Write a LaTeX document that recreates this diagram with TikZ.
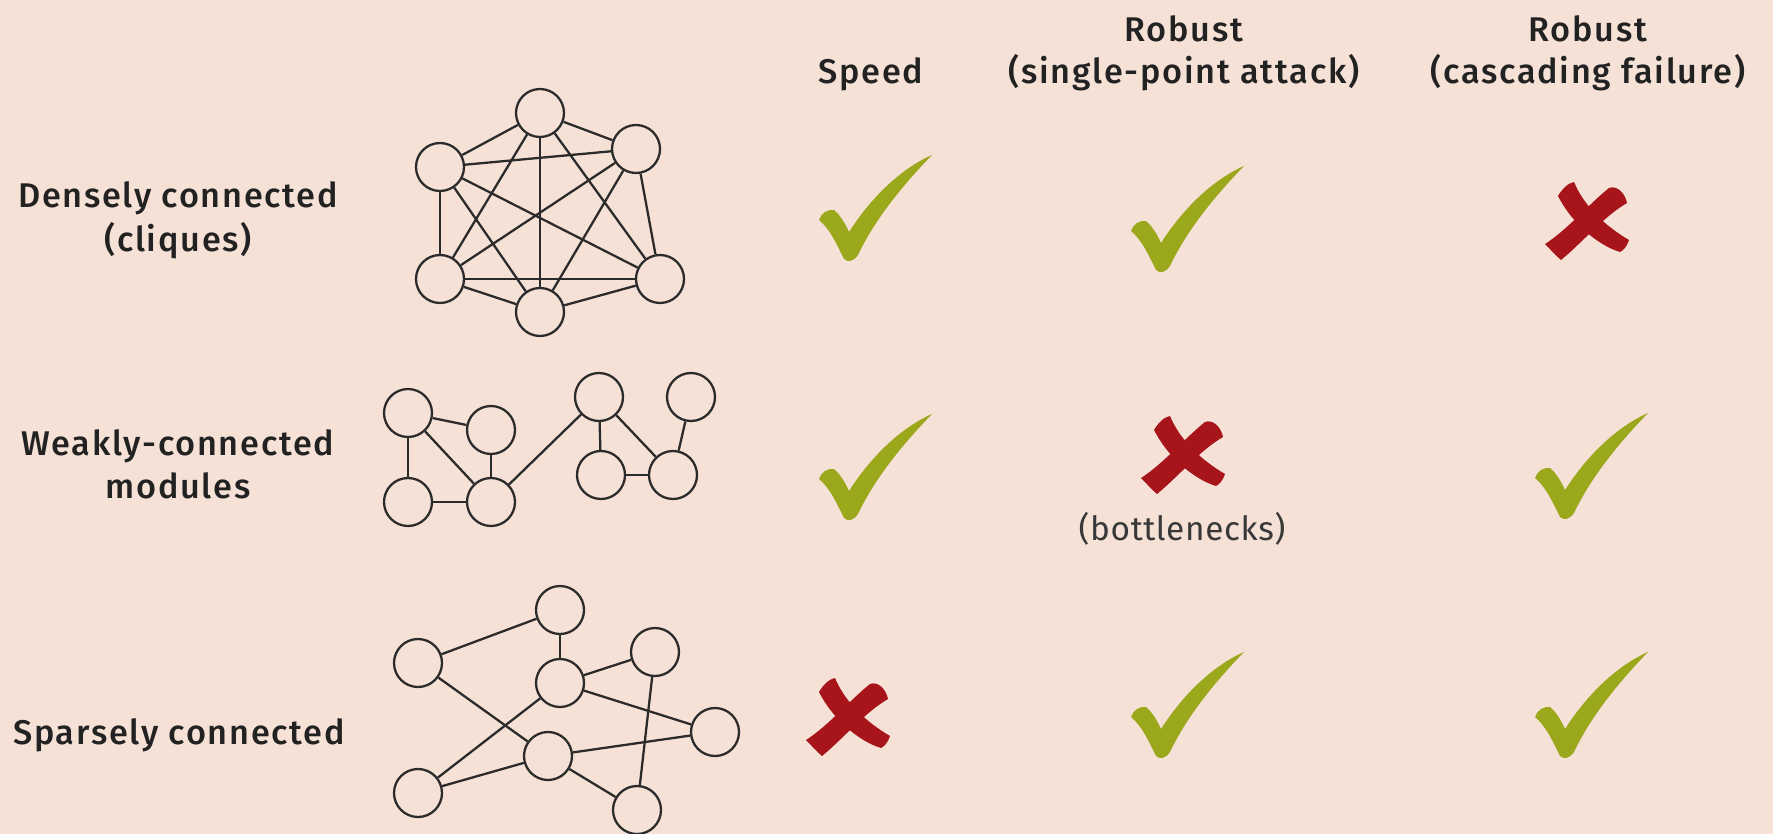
\documentclass[tikz,border=0pt]{standalone}
\usepackage{fontspec}
\setmainfont{Fira Sans}[LetterSpace=5, BoldFont={* Medium}]
\newfontfamily\notefont{Fira Sans}[LetterSpace=2]
\definecolor{bg}{HTML}{F6E1D7}
\definecolor{okgreen}{HTML}{9BA81C}
\definecolor{nored}{HTML}{A7151B}
\definecolor{ink}{HTML}{2B2B2B}
\definecolor{txt}{HTML}{222222}
\begin{document}
\begin{tikzpicture}[x=0.02cm, y=-0.02cm,
  vertex/.style={circle, draw=ink, line width=1.3pt, minimum size=0.96cm, inner sep=0pt},
  link/.style={draw=ink, line width=1.3pt},
  heading/.style={anchor=base, text=txt, font=\bfseries\fontsize{19.5}{22}\selectfont},
  note/.style={anchor=base, text=txt!90, font=\notefont\fontsize{19}{22}\selectfont},
  checkmark/.pic={
    \fill[okgreen] (-31,52) .. controls (-38,38) and (-45,22) .. (-56,13)
      .. controls (-54,6) and (-47,2) .. (-41,3)
      .. controls (-35,8) and (-30,16) .. (-26,25)
      .. controls (-5,-8) and (25,-38) .. (57,-52)
      .. controls (28,-22) and (0,12) .. (-17,48)
      .. controls (-21,54) and (-27,56) .. (-31,52) -- cycle;
  },
  crossmark/.pic={
    \fill[nored] (-29,-24) .. controls (-25,-31) and (-19,-37) .. (-13,-38)
      .. controls (-3,-14) and (18,6) .. (42,20)
      .. controls (40,26) and (37,30) .. (33,32)
      .. controls (10,25) and (-16,2) .. (-29,-24) -- cycle;
    \fill[nored] (-42,24) .. controls (-20,10) and (3,-17) .. (22,-32)
      .. controls (30,-35) and (38,-27) .. (40,-17)
      .. controls (16,-3) and (-4,22) .. (-26,40)
      .. controls (-32,35) and (-37,29) .. (-42,24) -- cycle;
  }
]
\fill[bg] (0,0) rectangle (1773,834);
\useasboundingbox (0,0) rectangle (1773,834);

% column headings
\node[heading] (hspeed) at (871,84) {Speed};
\node[heading] (hsa1) at (1184,42) {Robust};
\node[heading] (hsa2) at (1184,84) {(single-point attack)};
\node[heading] (hcf1) at (1588,42) {Robust};
\node[heading] (hcf2) at (1588,84) {(cascading failure)};

% row labels
\node[heading] (r1a) at (178,208) {Densely connected};
\node[heading] (r1b) at (178,252) {(cliques)};
\node[heading] (r2a) at (178,455) {Weakly-connected};
\node[heading] (r2b) at (178,498) {modules};
\node[heading] (r3a) at (179,744) {Sparsely connected};

% clique: complete graph on six vertices
\node[vertex] (c1) at (540,113) {};
\node[vertex] (c2) at (440,167) {};
\node[vertex] (c3) at (636,149) {};
\node[vertex] (c4) at (440,279) {};
\node[vertex] (c5) at (540,312) {};
\node[vertex] (c6) at (660,279) {};
\foreach \a/\b in {c1/c2,c1/c3,c1/c4,c1/c5,c1/c6,c2/c3,c2/c4,c2/c5,c2/c6,
                   c3/c4,c3/c5,c3/c6,c4/c5,c4/c6,c5/c6}
  \draw[link] (\a) -- (\b);

% two modules joined by a single bridge
\node[vertex] (m1) at (408,413) {};
\node[vertex] (m2) at (491,430) {};
\node[vertex] (m3) at (408,502) {};
\node[vertex] (m4) at (491,502) {};
\node[vertex] (m5) at (599,397) {};
\node[vertex] (m6) at (691,397) {};
\node[vertex] (m7) at (601,475) {};
\node[vertex] (m8) at (673,475) {};
\foreach \a/\b in {m1/m2,m1/m3,m1/m4,m2/m4,m3/m4,m4/m5,m5/m7,m5/m8,m7/m8,m6/m8}
  \draw[link] (\a) -- (\b);

% sparse graph
\node[vertex] (s1) at (560,610) {};
\node[vertex] (s2) at (418,663) {};
\node[vertex] (s3) at (560,683) {};
\node[vertex] (s4) at (655,652) {};
\node[vertex] (s5) at (715,732) {};
\node[vertex] (s6) at (548,756) {};
\node[vertex] (s7) at (418,793) {};
\node[vertex] (s8) at (637,810) {};
\foreach \a/\b in {s1/s2,s1/s3,s2/s6,s3/s4,s3/s5,s3/s7,s4/s8,s6/s5,s6/s7,s6/s8}
  \draw[link] (\a) -- (\b);

% verdicts
\pic at (875,207) {checkmark};
\pic at (1187,218) {checkmark};
\pic at (1587,220) {crossmark};

\pic at (875,466) {checkmark};
\pic at (1183,454) {crossmark};
\node[note] (bn) at (1182,540) {(bottlenecks)};
\pic at (1591,465) {checkmark};

\pic at (848,716) {crossmark};
\pic at (1187,704) {checkmark};
\pic at (1591,704) {checkmark};
\end{tikzpicture}
\end{document}
